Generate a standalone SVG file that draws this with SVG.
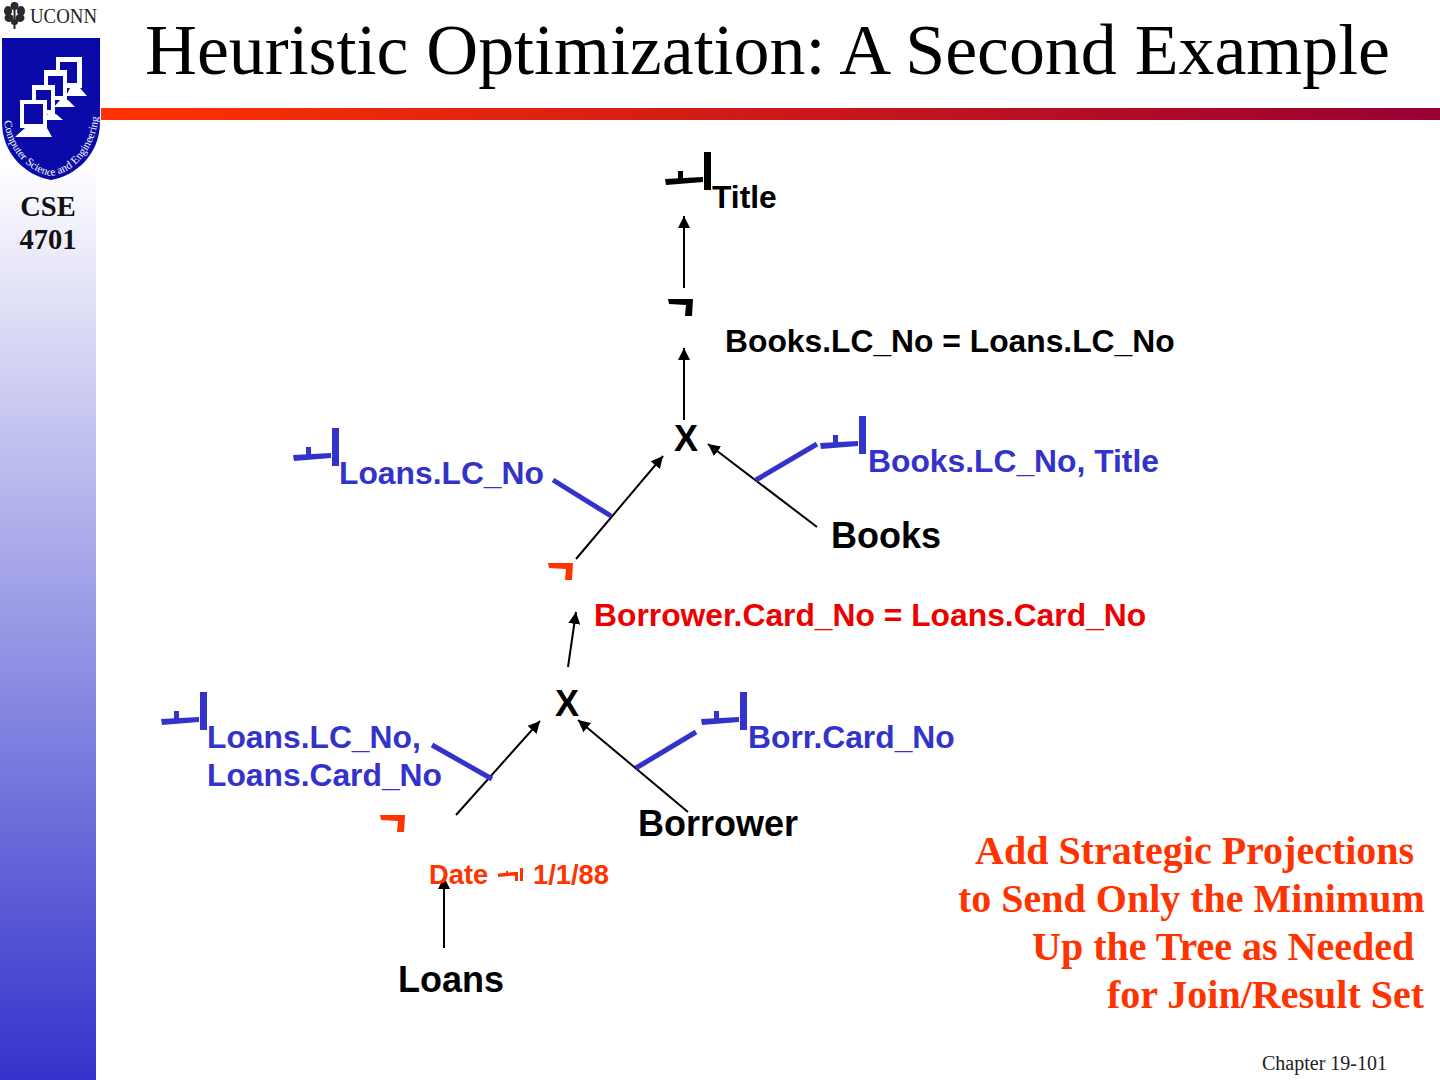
<svg xmlns="http://www.w3.org/2000/svg" width="1440" height="1080" viewBox="0 0 1440 1080">
<style>
.sans{font-family:"Liberation Sans",Arial,sans-serif;font-weight:bold}
.serif{font-family:"Liberation Serif","Times New Roman",serif}
.k{fill:#000}.b{fill:#3333cc}.o{fill:#ff3300}.r{fill:#ee0000}
.arrow{stroke:#000;stroke-width:2;fill:none;marker-end:url(#ah)}
.blue{stroke:#3333cc;stroke-width:5;fill:none}
.l1{font-size:31.800px}.big{font-size:36px}
.win{fill:#0a0aa8}
</style>
<defs>
<linearGradient id="side" x1="0" y1="0" x2="0" y2="1"><stop offset="0.15" stop-color="#fff"/><stop offset="1" stop-color="#3333cc"/></linearGradient>
<linearGradient id="bar" x1="0" y1="0" x2="1" y2="0"><stop offset="0" stop-color="#ff3300"/><stop offset="1" stop-color="#990033"/></linearGradient>
<marker id="ah" markerUnits="userSpaceOnUse" markerWidth="14" markerHeight="14" refX="12" refY="6" orient="auto"><path d="M0,0L12,6L0,12Z" fill="#000"/></marker>
<g id="pi"><path d="M-40,27L-2,25V30L-39,33Z"/><rect x="-27" y="19" width="5" height="8"/><rect x="-1" y="0" width="7" height="38"/></g>
<path id="sigma" d="M0,0H25L24,17H17L18,6L1,5Z"/>
<path id="arc" d="M4,121C8,155 34,174 51,176C69,174 95,155 99,114"/>
</defs>
<rect width="1440" height="1080" fill="#fff"/>
<g id="sidebar">
<rect width="96" height="1080" fill="url(#side)"/>
<path d="M101,108H1440V120H101Z" fill="url(#bar)"/>
</g>
<g id="logo">
<g fill="#2a2a2a">
<rect x="13.500" y="2" width="2" height="27"/>
<ellipse cx="14.500" cy="6" rx="4" ry="4"/>
<ellipse cx="8" cy="11" rx="4" ry="5"/>
<ellipse cx="21" cy="11" rx="4" ry="5"/>
<ellipse cx="9" cy="18" rx="4.500" ry="4"/>
<ellipse cx="20" cy="18" rx="4.500" ry="4"/>
<ellipse cx="14.500" cy="22" rx="3.500" ry="3"/>
</g>
<text x="30" y="23" class="serif" font-size="21" textLength="67" lengthAdjust="spacingAndGlyphs" fill="#222">UCONN</text>
<path d="M2,38H100V122C100,155 75,176 51,180C27,176 2,155 2,122Z" fill="#0a0aa8"/>
<g fill="#fff">
<rect x="56" y="57" width="26" height="31"/><rect class="win" x="60" y="62" width="17" height="21"/>
<path d="M70,88H80L87,96H66Z"/>
<rect x="44" y="70" width="23" height="30"/><rect class="win" x="48" y="76" width="15" height="20"/>
<path d="M60,100H68L75,107H54Z"/>
<rect x="32" y="85" width="23" height="29"/><rect class="win" x="36" y="90" width="15" height="20"/>
<path d="M48,114H56L63,120H43Z"/>
<rect x="20" y="100" width="27" height="28"/><rect class="win" x="24" y="104" width="19" height="20"/>
<path d="M25,128H47L52,137H15Z"/>
<text class="serif" font-size="11.200"><textPath href="#arc" startOffset="0">Computer Science and Engineering</textPath></text>
</g>
</g>
<g id="course" class="serif" font-weight="bold" font-size="28.500" text-anchor="middle" fill="#111">
<text x="48" y="216">CSE</text><text x="48" y="249">4701</text>
</g>
<text id="title" x="145" y="74" class="serif" font-size="72" textLength="1245" lengthAdjust="spacingAndGlyphs" fill="#000">Heuristic Optimization: A Second Example</text>
<g id="connectors">
<path class="arrow" d="M684,288V216"/>
<path class="arrow" d="M684,420V348"/>
<path class="arrow" d="M576,559L663,456"/>
<path class="arrow" d="M817,527L708,444"/>
<path class="arrow" d="M568,667L576,612"/>
<path class="arrow" d="M688,812L578,720"/>
<path class="arrow" d="M456,815L540,721"/>
<path class="arrow" d="M444,948V877"/>
<path class="blue" d="M553,480L611,516"/>
<path class="blue" d="M756,480L817,444"/>
<path class="blue" d="M432,745L492,779"/>
<path class="blue" d="M636,768L696,732"/>
</g>
<g id="node-project-title"><use href="#pi" x="705" y="152" class="k"/><text x="712" y="208" class="sans l1 k">Title</text></g>
<g id="node-select-join1"><use href="#sigma" x="668" y="299" class="k"/><text x="725" y="352" class="sans l1 k">Books.LC_No = Loans.LC_No</text></g>
<g id="node-x1"><text x="674" y="451" class="sans big k">X</text></g>
<g id="node-project-books"><use href="#pi" x="860" y="416" class="b"/><text x="868" y="472" class="sans l1 b">Books.LC_No, Title</text></g>
<g id="node-project-loans"><use href="#pi" x="333" y="428" class="b"/><text x="339" y="484" class="sans l1 b">Loans.LC_No</text></g>
<g id="node-books"><text x="831" y="548" class="sans big k">Books</text></g>
<g id="node-select-join2"><use href="#sigma" x="548" y="563" class="o"/><text x="594" y="626" class="sans l1 r">Borrower.Card_No = Loans.Card_No</text></g>
<g id="node-x2"><text x="555" y="716" class="sans big k">X</text></g>
<g id="node-project-loans2"><use href="#pi" x="201" y="692" class="b"/><text x="207" y="748" class="sans l1 b">Loans.LC_No,</text><text x="207" y="786" class="sans l1 b">Loans.Card_No</text></g>
<g id="node-project-borr"><use href="#pi" x="741" y="692" class="b"/><text x="748" y="748" class="sans l1 b">Borr.Card_No</text></g>
<g id="node-borrower"><text x="638" y="836" class="sans big k">Borrower</text></g>
<g id="node-select-date"><use href="#sigma" x="380" y="815" class="o"/>
<text x="429" y="884" class="sans o" font-size="27.300">Date</text>
<path class="o" d="M498,873.500L515,872V875.500L498,877ZM506,871H508V874H506ZM515,872H518V881H515ZM520,868H523V881H520Z"/>
<text x="533" y="884" class="sans o" font-size="27.300">1/1/88</text></g>
<g id="node-loans"><text x="398" y="992" class="sans big k">Loans</text></g>
<g id="note" class="serif o" font-weight="bold" font-size="40">
<text x="975" y="864">Add Strategic Projections</text>
<text x="958" y="912">to Send Only the Minimum</text>
<text x="1032" y="960">Up the Tree as Needed</text>
<text x="1107" y="1008">for Join/Result Set</text>
</g>
<text id="footer" x="1262" y="1070" class="serif" font-size="20" fill="#222">Chapter 19-101</text>
</svg>
